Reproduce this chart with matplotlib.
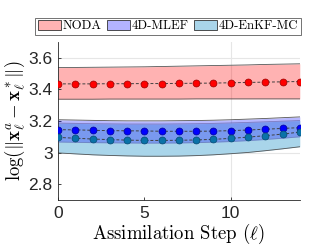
import matplotlib
matplotlib.use("Agg")
import matplotlib.pyplot as plt
import numpy as np
from matplotlib.patches import Patch

plt.rcParams['mathtext.fontset'] = 'cm'

steps = np.arange(15)
noda_mean = [3.435, 3.435, 3.435, 3.436, 3.436, 3.437, 3.437, 3.438, 3.439, 3.440, 3.442, 3.444, 3.446, 3.448, 3.450]
noda_upper = [3.538, 3.539, 3.540, 3.541, 3.542, 3.543, 3.545, 3.547, 3.549, 3.551, 3.553, 3.555, 3.558, 3.560, 3.562]
noda_lower = [3.338, 3.338, 3.338, 3.339, 3.339, 3.339, 3.339, 3.339, 3.340, 3.340, 3.340, 3.340, 3.340, 3.340, 3.340]

mlef_mean = [3.145, 3.144, 3.141, 3.139, 3.138, 3.137, 3.135, 3.135, 3.135, 3.136, 3.139, 3.143, 3.148, 3.153, 3.158]
mlef_upper = [3.208, 3.206, 3.204, 3.202, 3.201, 3.201, 3.201, 3.202, 3.203, 3.205, 3.208, 3.212, 3.216, 3.221, 3.226]
mlef_lower = [3.067, 3.065, 3.063, 3.062, 3.061, 3.060, 3.060, 3.061, 3.063, 3.066, 3.070, 3.076, 3.083, 3.091, 3.100]

enkf_mean = [3.096, 3.091, 3.086, 3.082, 3.079, 3.077, 3.077, 3.078, 3.080, 3.084, 3.090, 3.098, 3.107, 3.117, 3.130]
enkf_upper = [3.187, 3.185, 3.183, 3.182, 3.181, 3.181, 3.181, 3.182, 3.183, 3.185, 3.188, 3.191, 3.195, 3.199, 3.203]
enkf_lower = [2.998, 2.992, 2.986, 2.982, 2.979, 2.977, 2.977, 2.978, 2.981, 2.986, 2.993, 3.001, 3.012, 3.024, 3.037]

labels = ['NODA', '4D-MLEF', '4D-EnKF-MC']
fill_colors = ['#ffb3b3', '#b3b3ff', '#a9d5ea']

fig = plt.figure(figsize=(3.32, 2.5), dpi=100)
ax = fig.add_axes([0.175, 0.2, 0.728, 0.632])

# grid lines (light)
ax.axvline(10, color='#e6e6e6', lw=0.8, zorder=0)
for yv in [3.0, 3.6]:
    ax.axhline(yv, color='#e6e6e6', lw=0.8, zorder=0)

edge = '#555555'
# NODA
ax.fill_between(steps, noda_lower, noda_upper, color='red', alpha=0.3, lw=0, zorder=1)
ax.plot(steps, noda_upper, color=edge, lw=0.6, zorder=2)
ax.plot(steps, noda_lower, color=edge, lw=0.6, zorder=2)
# EnKF-MC
ax.fill_between(steps, enkf_lower, enkf_upper, color='#a9d5ea', lw=0, zorder=1)
ax.plot(steps, enkf_upper, color=edge, lw=0.6, zorder=2, alpha=0.5)
ax.plot(steps, enkf_lower, color=edge, lw=0.6, zorder=2)
# MLEF
ax.fill_between(steps, mlef_lower, mlef_upper, color='blue', alpha=0.28, lw=0, zorder=3)
ax.plot(steps, mlef_upper, color=edge, lw=0.6, zorder=3)
ax.plot(steps, mlef_lower, color=edge, lw=0.6, zorder=3, alpha=0.3)

ax.plot(steps, noda_mean, '--', color='#404040', lw=0.7, marker='o', ms=5,
        mfc='#ff0000', mec='#990000', mew=0.5, zorder=5, dashes=(3, 2))
ax.plot(steps, mlef_mean, '--', color='#404040', lw=0.7, marker='o', ms=5,
        mfc='#0000ff', mec='#000099', mew=0.5, zorder=5, dashes=(3, 2))
ax.plot(steps, enkf_mean, '--', color='#404040', lw=0.7, marker='o', ms=5,
        mfc='#0a72a8', mec='#064a70', mew=0.5, zorder=5, dashes=(3, 2))

ax.set_xlim(0, 14)
ax.set_ylim(2.7, 3.7)
ax.set_xticks([0, 5, 10])
ax.set_yticks([2.8, 3.0, 3.2, 3.4, 3.6])
ax.set_yticklabels(['2.8', '3', '3.2', '3.4', '3.6'])
for lab in ax.get_xticklabels() + ax.get_yticklabels():
    lab.set_fontfamily('Liberation Sans')
    lab.set_fontsize(12.5)
    lab.set_color('#262626')
ax.tick_params(direction='in', length=2.5, width=0.6, colors='#262626', pad=4)
for s in ['top', 'right']:
    ax.spines[s].set_visible(False)
for s in ['left', 'bottom']:
    ax.spines[s].set_color('#262626')
    ax.spines[s].set_linewidth(0.6)

ax.set_xlabel(r'Assimilation Step ($\ell$)', fontfamily='cmr10', fontsize=13.5, labelpad=1)
ax.set_ylabel(r'$\log(\|\mathbf{x}^a_\ell - \mathbf{x}^*_\ell\|)$', fontsize=13.5, labelpad=1)

handles = [Patch(facecolor=c, edgecolor='#333333', lw=0.6) for c in fill_colors]
leg = fig.legend(handles, labels, loc='center', bbox_to_anchor=(0.506, 0.895), ncol=3,
                 prop={'family': 'cmr10', 'size': 9.2}, frameon=True, fancybox=False,
                 edgecolor='#333333', handlelength=1.8, handleheight=0.8,
                 handletextpad=0.12, columnspacing=0.45, borderpad=0.18, borderaxespad=0)
leg.get_frame().set_linewidth(0.6)

fig.savefig('out.png', dpi=100)
